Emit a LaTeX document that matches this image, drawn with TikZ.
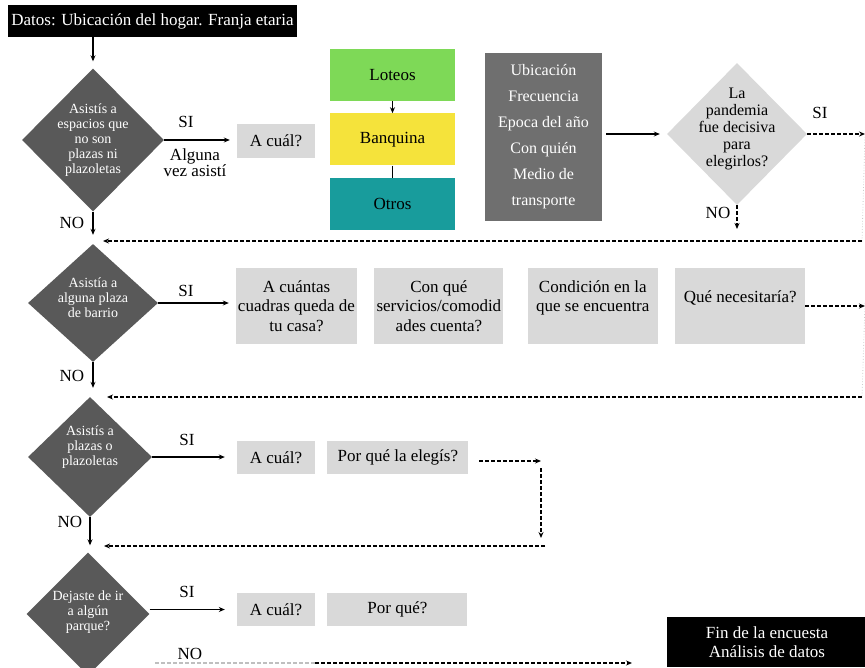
\documentclass[tikz,border=0pt]{standalone}
\usepackage{fontspec}
\setmainfont{Liberation Serif}
\usetikzlibrary{positioning, shapes.geometric, arrows.meta}
\definecolor{darkq}{HTML}{595959}
\definecolor{lightq}{HTML}{D9D9D9}
\definecolor{infogray}{HTML}{6F6F6F}
\definecolor{lotgreen}{HTML}{7ED957}
\definecolor{banyellow}{HTML}{F5E33B}
\definecolor{otrteal}{HTML}{189C9C}

\begin{document}
\begin{tikzpicture}[x=1pt, y=-1pt]
            % Block styles
            \tikzstyle{answer} = [rectangle, fill=lightq, align=center, inner sep=1pt, font=\fontsize{17}{19.5}\selectfont]
            \tikzstyle{cat} = [rectangle, align=center, minimum width=125pt, minimum height=52pt, font=\fontsize{17}{20}\selectfont]
            \tikzstyle{darkdec} = [diamond, fill=darkq, inner sep=0pt]
            \tikzstyle{dectext} = [text=white, align=center, font=\fontsize{14}{15}\selectfont]
            \tikzstyle{blackbox} = [rectangle, fill=black, text=white, align=center, inner sep=1pt, font=\fontsize{17}{19}\selectfont]
            \tikzstyle{lbl} = [font=\fontsize{17}{19}\selectfont, inner sep=0pt]
            \tikzstyle{arr} = [-{Stealth[length=6pt, width=5pt]}, line width=1.2pt]
            \tikzstyle{darr} = [arr, dash pattern=on 4pt off 2pt]

            \useasboundingbox (0,0) rectangle (865,667);
            \clip (0,0) rectangle (865,667);

            % Start
            \node[blackbox, minimum width=289pt, minimum height=32pt] (datos) at (152.5,21) {Datos: Ubicación del hogar. Franja etaria};

            % First question
            \node[darkdec, minimum width=142pt, minimum height=143pt,
                  label={[dectext]center:Asistís a\\espacios que\\no son\\plazas ni\\plazoletas}] (q1) at (93,140) {};
            \node[answer, minimum width=78pt, minimum height=34pt] (cual1) at (276,141) {A cuál?};

            % Kinds of spaces
            \node[cat, fill=lotgreen] (loteos) at (392.5,75) {Loteos};
            \node[cat, fill=banyellow, below=12pt of loteos] (banquina) {Banquina};
            \node[cat, fill=otrteal, below=12pt of banquina] (otros) {Otros};

            % Details asked
            \node[rectangle, fill=infogray, text=white, align=center, minimum width=117pt, minimum height=168pt,
                  font=\fontsize{16}{26}\selectfont] (detalles) at (543.5,137)
                  {Ubicación\\Frecuencia\\Epoca del año\\Con quién\\Medio de\\transporte};

            % Pandemic question
            \node[diamond, fill=lightq, inner sep=0pt, minimum width=140pt, minimum height=142pt,
                  label={[align=center, font=\fontsize{16}{17}\selectfont, yshift=5pt]center:La\\pandemia\\fue decisiva\\para\\elegirlos?}] (pandemia) at (737,134) {};

            % Second question
            \node[darkdec, minimum width=130pt, minimum height=118pt,
                  label={[dectext, yshift=5pt]center:Asistía a\\alguna plaza\\de barrio}] (q2) at (93,303) {};
            \node[answer, minimum width=121pt, minimum height=76pt] (cuadras) at (296.5,306) {A cuántas\\cuadras queda de\\tu casa?};
            \node[answer, minimum width=129pt, minimum height=76pt, right=17pt of cuadras] (servicios) {Con qué\\servicios/comodid\\ades cuenta?};
            \node[answer, minimum width=130pt, minimum height=76pt, right=24pt of servicios] (condicion) {Condición en la\\que se encuentra\\\mbox{}};
            \node[answer, minimum width=130pt, minimum height=76pt, right=17pt of condicion] (necesita) {Qué necesitaría?\\\mbox{}};

            % Third question
            \node[darkdec, minimum width=124pt, minimum height=120pt,
                  label={[dectext, yshift=10pt]center:Asistís a\\plazas o\\plazoletas}] (q3) at (90,457) {};
            \node[answer, minimum width=78pt, minimum height=33pt] (cual3) at (276,457.5) {A cuál?};
            \node[answer, minimum width=141pt, minimum height=33pt, right=12pt of cual3] (porque3) {Por qué la elegís?};

            % Fourth question
            \node[darkdec, minimum width=123pt, minimum height=123pt,
                  label={[dectext, yshift=2pt]center:Dejaste de ir\\a algún\\parque?}] (q4) at (88,614) {};
            \node[answer, minimum width=78pt, minimum height=33pt] (cual4) at (276,609.5) {A cuál?};
            \node[answer, minimum width=140pt, minimum height=33pt, right=12pt of cual4] (porque4) {Por qué?};

            % End
            \node[blackbox, minimum width=200pt, minimum height=50pt] (fin) at (767,642) {Fin de la encuesta\\Análisis de datos};

            % Labels
            \node[lbl] (si1) at (186,122) {SI};
            \node[lbl, align=center, font=\fontsize{17}{16}\selectfont] (alguna) at (195,163) {Alguna\\vez asistí};
            \node[lbl] (no1) at (72,223) {NO};
            \node[lbl] (sip) at (820,113) {SI};
            \node[lbl] (nop) at (718,213) {NO};
            \node[lbl] (si2) at (186,291) {SI};
            \node[lbl] (no2) at (72,376) {NO};
            \node[lbl] (si3) at (187,440) {SI};
            \node[lbl] (no3) at (70,522) {NO};
            \node[lbl] (si4) at (187,592) {SI};
            \node[lbl] (no4) at (190,654) {NO};

            % Free ends
            \coordinate (sipend) at (865,134);
            \coordinate (nopend) at (737,229);
            \coordinate (ret1a) at (862,241);
            \coordinate (ret1b) at (103,241);
            \coordinate (necend) at (865,303);
            \coordinate (ret2a) at (862,397);
            \coordinate (ret2b) at (107,397);
            \coordinate (elige1) at (479,461);
            \coordinate (elige2) at (541,461);
            \coordinate (elige3) at (541,468);
            \coordinate (elige4) at (541,538);
            \coordinate (ret3a) at (545,546);
            \coordinate (ret3b) at (104,546);
            \coordinate (noa) at (155,663);
            \coordinate (nob) at (315,663);
            \coordinate (noc) at (632,663);

            % Connections
            \draw[arr, shorten >=7pt] (q1 |- datos.south) -- (q1.north);
            \draw[arr, shorten >=7pt] (q1.east) -- (q1.east -| cual1.west);
            \draw[arr] (loteos) -- (banquina);
            \draw[line width=1.2pt] (banquina) -- (otros);
            \draw[arr, shorten <=4pt, shorten >=7pt] (detalles.east |- pandemia) -- (pandemia.west);
            \draw[darr] (pandemia.east) -- (sipend);
            \draw[darr] (pandemia.south) -- (nopend);
            \draw[arr, shorten >=9pt] (q1.south) -- (q2.north);

            \draw[arr, shorten >=7pt] (q2.east) -- (q2.east -| cuadras.west);
            \draw[darr] (necesita.east) -- (necesita.east -| necend);
            \draw[arr, shorten >=9pt] (q2.south) -- (q2.south |- q3.north);

            \draw[arr, shorten >=12pt] (q3.east) -- (q3.east -| cual3.west);
            \draw[darr] (elige1) -- (elige2);
            \draw[darr] (elige3) -- (elige4);
            \draw[arr, shorten >=7pt] (q3.south) -- (q3.south |- q4.north);

            \draw[arr, shorten >=12pt] (q4.east |- cual4) -- (cual4.west);
            \draw[black!25, line width=1.2pt, dash pattern=on 4pt off 2pt] (noa) -- (nob);
            \draw[darr] (nob) -- (noc);

            % Return lines on the right
            \draw[black!20, line width=0.8pt, dotted] (sipend) -- (ret1a);
            \draw[black!20, line width=0.8pt, dotted] (necend) -- (ret2a);
            \draw[darr] (ret1a) -- (ret1b);
            \draw[darr] (ret2a) -- (ret2b);
            \draw[darr] (ret3a) -- (ret3b);
\end{tikzpicture}
\end{document}
